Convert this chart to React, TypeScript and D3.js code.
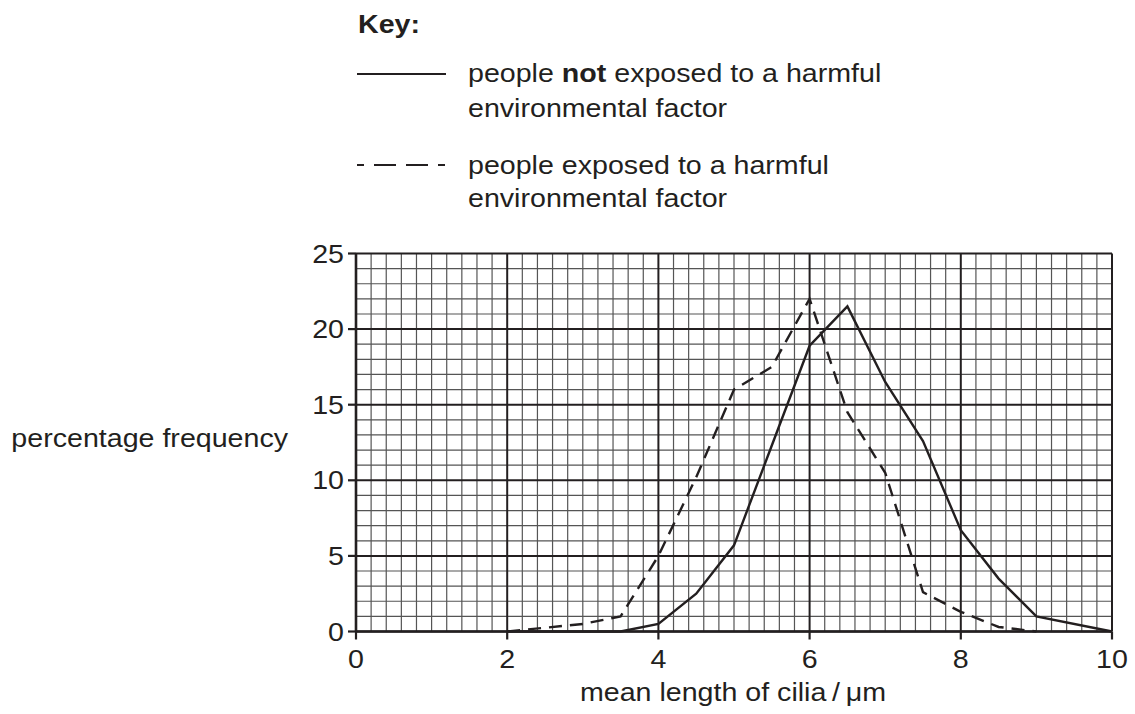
import React from "react";
import * as d3 from "d3";

const notExposedX = [2, 3.5, 4, 4.5, 5, 5.5, 6, 6.5, 7, 7.5, 8, 8.5, 9, 10];
const notExposedY = [0, 0, 0.5, 2.5, 5.7, 12.3, 18.9, 21.5, 16.5, 12.6, 6.7, 3.5, 1.0, 0];
const exposedX = [2, 2.5, 3, 3.5, 4, 4.5, 5, 5.5, 6, 6.5, 7, 7.5, 8, 8.5, 9];
const exposedY = [0, 0.25, 0.5, 1.0, 5.0, 10.2, 16.0, 17.5, 22.0, 14.5, 10.5, 2.6, 1.3, 0.3, 0];
const xTicks = [0, 2, 4, 6, 8, 10];
const yTicks = [0, 5, 10, 15, 20, 25];
const legendSolid = ["people ", "not", " exposed to a harmful", "environmental factor"];
const legendDashed = ["people exposed to a harmful", "environmental factor"];
const yTitle = "percentage frequency";
const xTitle = "mean length of cilia\u2009/\u2009μm";

const W = 1135;
const H = 714;
const FONT = "'Liberation Sans', Arial, Helvetica, sans-serif";
const INK = "#231f20";
const FS = 26;
const SX = 1.1;

function T({
  x,
  y,
  anchor = "start",
  bold = false,
  children,
}: {
  x: number;
  y: number;
  anchor?: string;
  bold?: boolean;
  children: React.ReactNode;
}) {
  return (
    <text
      transform={`translate(${x},${y}) scale(${SX},1)`}
      fontSize={FS}
      fontWeight={bold ? "bold" : "normal"}
      textAnchor={anchor}
      fill={INK}
    >
      {children}
    </text>
  );
}

export default function App() {
  const x = d3.scaleLinear().domain([0, 10]).range([356, 1112]);
  const y = d3.scaleLinear().domain([0, 25]).range([631.5, 253.5]);

  const minorX = d3.range(0, 10.001, 0.2).map((v) => +v.toFixed(1));
  const minorY = d3.range(0, 25.001, 1);

  const line = d3
    .line<[number, number]>()
    .x((d) => x(d[0]))
    .y((d) => y(d[1]));

  const solidPts: [number, number][] = notExposedX.map((v, i) => [v, notExposedY[i]]);
  const dashPts: [number, number][] = exposedX.map((v, i) => [v, exposedY[i]]);

  const isMajorX = (v: number) => Math.abs(v / 2 - Math.round(v / 2)) < 1e-6;
  const isMajorY = (v: number) => v % 5 === 0;

  return (
    <svg
      width={W}
      height={H}
      style={{ position: "absolute", left: 0, top: 0, background: "#fff" }}
      fontFamily={FONT}
    >
      {/* Key */}
      <T x={358} y={33} bold>
        Key:
      </T>
      <line x1={357} x2={446} y1={74} y2={74} stroke={INK} strokeWidth={2} />
      <T x={468} y={82}>
        {legendSolid[0]}
        <tspan fontWeight="bold">{legendSolid[1]}</tspan>
        {legendSolid[2]}
      </T>
      <T x={468} y={117}>{legendSolid[3]}</T>
      <line
        x1={357}
        x2={445}
        y1={165}
        y2={165}
        stroke={INK}
        strokeWidth={2}
        strokeDasharray="22,10"
        strokeDashoffset={15}
      />
      <T x={468} y={174}>{legendDashed[0]}</T>
      <T x={468} y={207}>{legendDashed[1]}</T>

      {/* minor grid */}
      <g>
        {minorX
          .filter((v) => !isMajorX(v))
          .map((v) => (
            <line key={"mx" + v} x1={x(v)} x2={x(v)} y1={y(0)} y2={y(25)} stroke="#555" strokeWidth={1.2} />
          ))}
        {minorY
          .filter((v) => !isMajorY(v))
          .map((v) => (
            <line key={"my" + v} x1={x(0)} x2={x(10)} y1={y(v)} y2={y(v)} stroke="#555" strokeWidth={1.2} />
          ))}
      </g>
      {/* major grid */}
      <g>
        {xTicks.map((v) => (
          <line key={"Mx" + v} x1={x(v)} x2={x(v)} y1={y(0)} y2={y(25)} stroke={INK} strokeWidth={2} />
        ))}
        {yTicks.map((v) => (
          <line key={"My" + v} x1={x(0)} x2={x(10)} y1={y(v)} y2={y(v)} stroke={INK} strokeWidth={2} />
        ))}
      </g>

      {/* data */}
      <path d={line(solidPts) || ""} fill="none" stroke={INK} strokeWidth={2.4} />
      <path d={line(dashPts) || ""} fill="none" stroke={INK} strokeWidth={2.4} strokeDasharray="13,8" />

      {/* axes */}
      <line x1={x(0)} x2={x(10)} y1={y(0)} y2={y(0)} stroke={INK} strokeWidth={2.6} />
      <line x1={x(0)} x2={x(0)} y1={y(0)} y2={y(25)} stroke={INK} strokeWidth={2.6} />
      {xTicks.map((v) => (
        <g key={"tx" + v}>
          <line x1={x(v)} x2={x(v)} y1={y(0)} y2={y(0) + 8} stroke={INK} strokeWidth={2.2} />
          <T x={x(v)} y={668} anchor="middle">
            {v}
          </T>
        </g>
      ))}
      {yTicks.map((v) => (
        <g key={"ty" + v}>
          <line x1={x(0) - 8} x2={x(0)} y1={y(v)} y2={y(v)} stroke={INK} strokeWidth={2.2} />
          <T x={344} y={y(v) + 9} anchor="end">
            {v}
          </T>
        </g>
      ))}

      {/* axis titles */}
      <T x={288} y={447} anchor="end">
        {yTitle}
      </T>
      <T x={733} y={701} anchor="middle">
        {xTitle}
      </T>
    </svg>
  );
}
